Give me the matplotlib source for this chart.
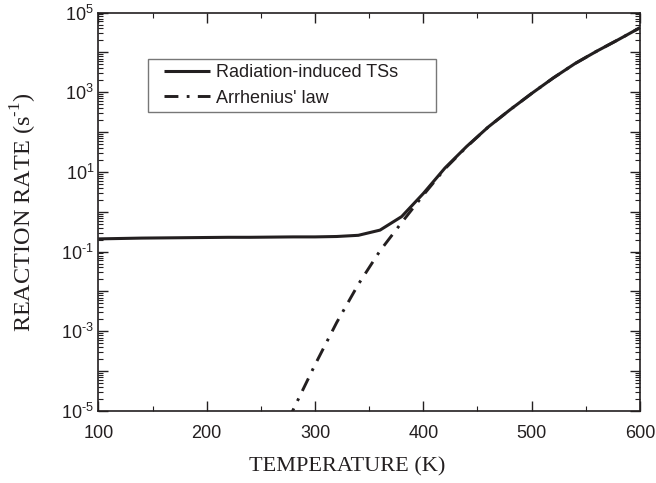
import matplotlib
matplotlib.use("Agg")
import matplotlib.pyplot as plt
from matplotlib.ticker import LogLocator, FixedLocator, NullFormatter, FuncFormatter
from matplotlib.legend_handler import HandlerLine2D
import numpy as np

# Temperature grid (K) and log10 of the reaction rate (s^-1)
temp_tss = [100, 120, 140, 160, 180, 200, 220, 240, 260, 280, 300, 320, 340,
            360, 380, 400, 420, 440, 460, 480, 500, 520, 540, 560, 580, 600]
logk_tss = [-0.68, -0.67, -0.66, -0.655, -0.65, -0.645, -0.64, -0.64, -0.635,
            -0.63, -0.63, -0.62, -0.59, -0.46, -0.12, 0.46, 1.10, 1.64, 2.13,
            2.56, 2.97, 3.36, 3.72, 4.03, 4.32, 4.62]

temp_arr = [275, 280, 300, 320, 340, 360, 380, 400, 420, 440, 460, 480, 500,
            520, 540, 560, 580, 600]
logk_arr = [-5.25, -4.96, -3.84, -2.78, -1.82, -0.98, -0.27, 0.42, 1.08, 1.63,
            2.13, 2.56, 2.97, 3.36, 3.72, 4.03, 4.32, 4.62]

labels = ["Radiation-induced TSs", "Arrhenius' law"]
xticks = [100, 200, 300, 400, 500, 600]

ink = "#231f20"
plt.rcParams["lines.scale_dashes"] = False
plt.rcParams["mathtext.fontset"] = "custom"
plt.rcParams["mathtext.rm"] = "Liberation Sans"

fig = plt.figure(figsize=(6.56, 4.83), dpi=100)
ax = fig.add_axes([0.1499, 0.149, 0.8257, 0.825])

rate_tss = 10.0 ** np.array(logk_tss)
rate_arr = 10.0 ** np.array(logk_arr)

ax.plot(temp_tss, rate_tss, color=ink, lw=2.2, solid_capstyle="butt",
        label=labels[0])
ax.plot(temp_arr, rate_arr, color=ink, lw=2.1, dashes=(10, 6, 2, 6),
        dash_capstyle="butt", label=labels[1])

ax.set_yscale("log")
ax.set_xlim(100, 600)
ax.set_ylim(1e-5, 1e5)

ax.xaxis.set_major_locator(FixedLocator(xticks))
ax.xaxis.set_minor_locator(FixedLocator([150, 250, 350, 450, 550]))
ax.yaxis.set_major_locator(LogLocator(base=10, numticks=20))
ax.yaxis.set_minor_locator(LogLocator(base=10, subs=np.arange(2, 10), numticks=20))
ax.yaxis.set_minor_formatter(NullFormatter())


def ylab(v, pos):
    e = int(round(np.log10(v)))
    if e % 2 == 0:
        return ""
    sign = r"\text{-}" if e < 0 else ""
    return r"$\mathregular{10^{%s%d}}$" % (sign, abs(e))


ax.yaxis.set_major_formatter(FuncFormatter(ylab))

for lab in ax.get_xticklabels() + ax.get_yticklabels():
    lab.set_fontfamily("Liberation Sans")
ax.tick_params(which="both", direction="in", top=True, right=True,
               colors=ink, labelsize=13)
ax.tick_params(which="major", length=7, width=1.0)
ax.tick_params(which="minor", length=3.5, width=0.8)
ax.tick_params(axis="x", pad=10)
ax.tick_params(axis="y", pad=3)
for s in ax.spines.values():
    s.set_linewidth(1.2)
    s.set_color(ink)

ax.set_xlabel("TEMPERATURE (K)", family="Liberation Serif", fontsize=16,
              color=ink, labelpad=9)
ax.xaxis.set_label_coords(0.459, -0.115)
ax.set_ylabel(r"REACTION RATE (s$^{\mathregular{\text{-}1}}$)",
              family="Liberation Serif", fontsize=17.5, color=ink, labelpad=16)

fs_px = 13 * 100 / 72.0
handler = HandlerLine2D(xpad=11.5 / fs_px)
leg = ax.legend(loc="upper left", bbox_to_anchor=(0.0912, 0.0, 0.5317, 0.8826),
                mode="expand", borderaxespad=0, fancybox=False, frameon=True,
                prop={"family": "Liberation Sans", "size": 13},
                handlelength=57.5 / fs_px, handletextpad=0.33, borderpad=0.28,
                labelspacing=0.45,
                handler_map={ln: handler for ln in ax.get_lines()})
leg.get_frame().set_edgecolor("#555555")
leg.get_frame().set_linewidth(1.0)
for t in leg.get_texts():
    t.set_color(ink)

fig.savefig("out.png", dpi=100)
